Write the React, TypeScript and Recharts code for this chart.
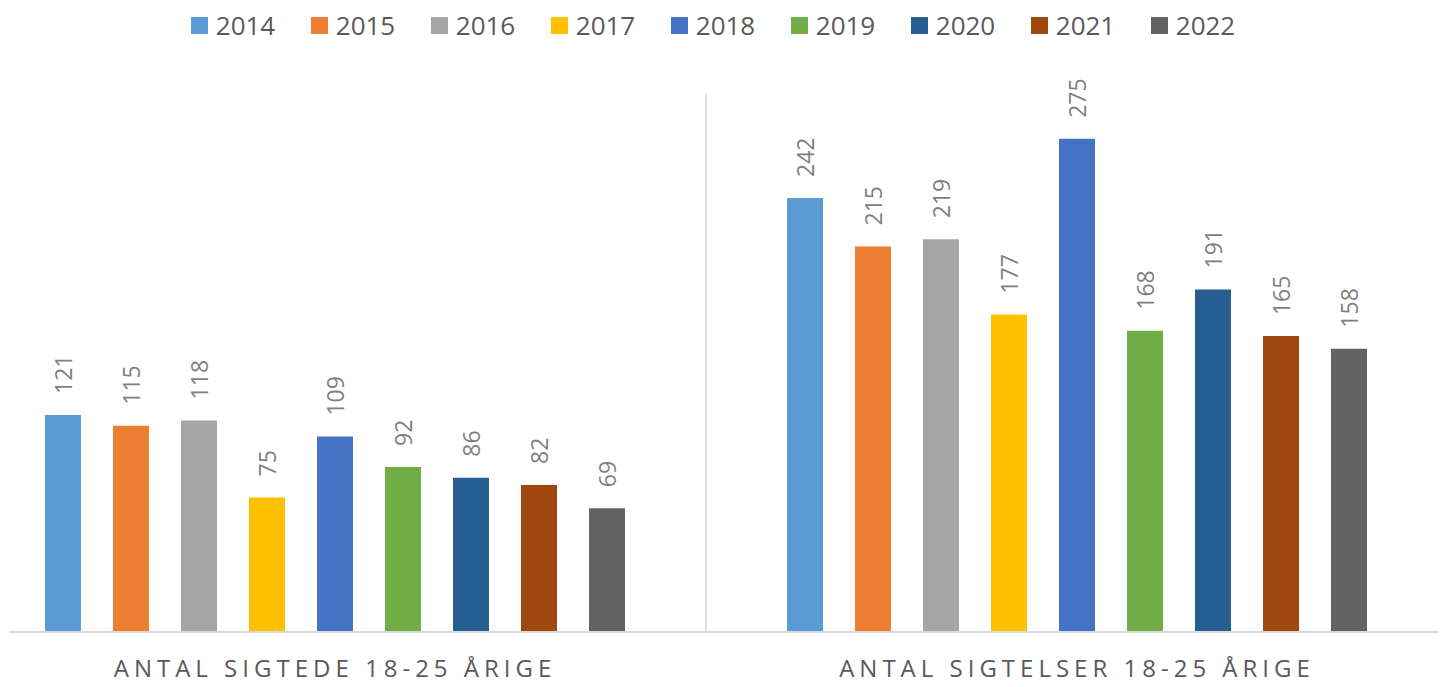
import { BarChart, Bar, XAxis, YAxis, Legend, LabelList, ReferenceLine } from 'recharts';

// categories and series
const categories = ['ANTAL SIGTEDE 18-25 ÅRIGE', 'ANTAL SIGTELSER 18-25 ÅRIGE'];
const years = ['2014', '2015', '2016', '2017', '2018', '2019', '2020', '2021', '2022'];
const sigtede = [121, 115, 118, 75, 109, 92, 86, 82, 69];
const sigtelser = [242, 215, 219, 177, 275, 168, 191, 165, 158];
const colors = ['#5B9BD5', '#ED7D31', '#A5A5A5', '#FFC000', '#4472C4', '#70AD47', '#255E91', '#9E480E', '#636363'];

const seriesValues = [sigtede, sigtelser];
const data = categories.map((cat, ci) => {
  const row: Record<string, string | number> = { cat };
  years.forEach((y, yi) => {
    row[y] = seriesValues[ci][yi];
  });
  return row;
});

const FONT = '"Open Sans", "Segoe UI", sans-serif';

const RotatedLabel = (props: any) => {
  const { x, y, width, value } = props;
  const cx = x + width / 2;
  const cy = y - 21;
  return (
    <text
      x={cx}
      y={cy}
      transform={`rotate(-90, ${cx}, ${cy})`}
      textAnchor="start"
      dominantBaseline="central"
      fill="#7f7f7f"
      fontSize={23}
      fontFamily={FONT}
    >
      {value}
    </text>
  );
};

const CategoryTick = (props: any) => {
  const { x, y, payload } = props;
  return (
    <text
      x={x}
      y={y + 37}
      textAnchor="middle"
      fill="#595959"
      fontSize={24}
      fontFamily={FONT}
      letterSpacing={5}
    >
      {payload.value}
    </text>
  );
};

const YearLegend = () => (
  <div
    style={{
      display: 'flex',
      justifyContent: 'center',
      alignItems: 'center',
      height: 30,
      paddingRight: 20,
      fontFamily: FONT,
    }}
  >
    {years.map((y, i) => (
      <div
        key={y}
        style={{
          display: 'flex',
          alignItems: 'center',
          width: i === years.length - 1 ? 'auto' : 120,
        }}
      >
        <span style={{ display: 'inline-block', width: 17, height: 17, background: colors[i], marginRight: 8 }} />
        <span style={{ fontSize: 26, color: '#595959' }}>{y}</span>
      </div>
    ))}
  </div>
);

export default function App() {
  return (
    <div>
      <style>{'html, body { overflow: hidden; }'}</style>
      <BarChart
        width={1430}
        height={679}
        data={data}
        margin={{ top: 46, right: 0, bottom: 0, left: 1 }}
        barSize={36}
        barGap={32}
      >
        <XAxis
          dataKey="cat"
          height={55}
          padding={{ left: -45, right: -10 }}
          axisLine={{ stroke: '#d9d9d9', strokeWidth: 2 }}
          tickLine={false}
          tick={<CategoryTick />}
          interval={0}
        />
        <YAxis hide domain={[0, 300]} />
        <ReferenceLine x={categories[1]} position="start" stroke="#e0e0e0" strokeWidth={2} />
        <Legend
          verticalAlign="top"
          content={<YearLegend />}
          wrapperStyle={{ top: 2, left: 0, width: 1430, height: 40 }}
        />
        {years.map((y, i) => (
          <Bar key={y} dataKey={y} fill={colors[i]} isAnimationActive={false}>
            <LabelList dataKey={y} content={<RotatedLabel />} />
          </Bar>
        ))}
      </BarChart>
    </div>
  );
}
